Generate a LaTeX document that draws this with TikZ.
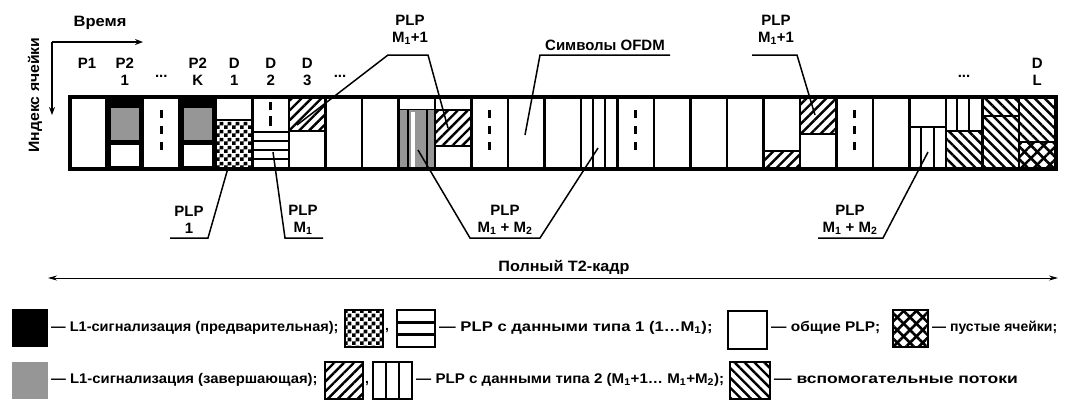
\documentclass[tikz,border=0pt]{standalone}
\usepackage{fontspec}
\setmainfont{Liberation Sans}
\usetikzlibrary{patterns,patterns.meta,arrows.meta}
\definecolor{cellgray}{RGB}{150,150,150}
\pgfdeclarepatternformonly{mychk}{\pgfqpoint{0pt}{0pt}}{\pgfqpoint{8pt}{8pt}}{\pgfqpoint{8pt}{8pt}}{%
 \pgfpathrectangle{\pgfqpoint{0pt}{0pt}}{\pgfqpoint{4pt}{4pt}}%
 \pgfpathrectangle{\pgfqpoint{4pt}{4pt}}{\pgfqpoint{4pt}{4pt}}%
 \pgfusepath{fill}}
\tikzset{
 lbl/.style={font=\fontsize{15}{17}\selectfont\bfseries, inner sep=0pt, align=center},
 legtxt/.style={font=\fontsize{14}{14}\selectfont\bfseries, anchor=west, inner sep=0pt},
 cell/.style={line width=2.5pt},
 hatchne/.style={pattern={Lines[angle=45,distance=7pt,line width=2.4pt]}},
 hatchnw/.style={pattern={Lines[angle=-45,distance=7pt,line width=2.4pt]}},
 crossa/.style={pattern={Lines[angle=45,distance=9pt,line width=2.6pt]}},
 crossb/.style={pattern={Lines[angle=-45,distance=9pt,line width=2.6pt]}},
 leader/.style={line width=1.5pt},
 vdot/.style={line width=3.2pt},
 legbox/.style={draw, line width=2.5pt},
}
\begin{document}
\begin{tikzpicture}[x=1pt,y=-1pt]
\useasboundingbox (0,0) rectangle (1088,400);
\fill[white] (0,0) rectangle (1088,400);
% ---------------- axes ----------------
\node[font=\fontsize{15}{15}\selectfont\bfseries, inner sep=0pt] (time) at (100,23) {\scalebox{1.1}[1]{Время}};
\coordinate (ax0) at (52,42);
\coordinate (axx) at (143,42);
\coordinate (axy) at (52,115);
\draw[line width=1.6pt, -{Stealth[length=8pt,width=6pt]}] (ax0) -- (axx);
\draw[line width=1.6pt, -{Stealth[length=8pt,width=6pt]}] (ax0) -- (axy);
\node[font=\fontsize{15}{15}\selectfont\bfseries, inner sep=0pt, rotate=90] (cidx) at (35,95) {\scalebox{1.05}[1]{Индекс ячейки}};
% ---------------- column contents ----------------
% col 2 and 4 : P2
\fill[black] (106.5,96.5) rectangle (143,169);
\fill[cellgray] (111,108) rectangle (139,140);
\fill[white] (111,145) rectangle (139,166);
\fill[black] (179.5,96.5) rectangle (216,169);
\fill[cellgray] (184,108) rectangle (212,140);
\fill[white] (184,145) rectangle (212,166);
% col 3 dots
\foreach \yy in {110,126,142} \draw[vdot] (161.25,\yy) -- ++(0,8);
% col 5 D1
\fill[pattern=mychk] (216,120) rectangle (252.5,169);
\draw[cell] (216,120) -- (252.5,120);
% col 6 D2
\draw[vdot] (270.75,102) -- (270.75,110);
\draw[vdot] (270.75,116) -- (270.75,126);
\draw[cell] (252.5,132) -- (289,132);
\foreach \yy in {141,150,159} \draw[cell] (252.5,\yy) -- (289,\yy);
% col 7 D3
\fill[hatchne] (289,96.5) rectangle (325.5,131);
\draw[cell] (289,131) -- (325.5,131);
% col 10
\draw[cell] (398.5,110) -- (435,110);
\fill[cellgray] (398.5,110) rectangle (435,169);
\fill[white] (411,112) rectangle (415,169);
\draw[cell] (408,110) -- (408,169);
\draw[cell] (427,110) -- (427,169);
% col 11
\draw[cell] (435,110) -- (471.5,110);
\fill[hatchne] (435,110) rectangle (471.5,146);
\draw[cell] (435,146) -- (471.5,146);
% col 12 dots
\foreach \yy in {110,126,142} \draw[vdot] (489.75,\yy) -- ++(0,8);
% col 15 stripes
\draw[cell] (593,96.5) -- (593,169);
\draw[cell] (605,96.5) -- (605,169);
% col 16 dots
\foreach \yy in {110,126,142} \draw[vdot] (635.75,\yy) -- ++(0,8);
% col 20
\fill[hatchne] (763.5,151) rectangle (800,169);
\draw[cell] (763.5,151) -- (800,151);
% col 21
\fill[hatchne] (800,96.5) rectangle (836.5,134);
\draw[cell] (800,134) -- (836.5,134);
% col 22 dots
\foreach \yy in {110,126,142} \draw[vdot] (854.75,\yy) -- ++(0,8);
% col 24
\draw[cell] (909.5,127) -- (946,127);
\draw[cell] (921,127) -- (921,169);
\draw[cell] (934,127) -- (934,169);
% col 25
\draw[cell] (957,96.5) -- (957,131);
\draw[cell] (969,96.5) -- (969,131);
\fill[hatchnw] (946,131) rectangle (982.5,169);
\draw[cell] (946,131) -- (982.5,131);
% col 26
\fill[hatchnw] (982.5,96.5) rectangle (1019,169);
\draw[cell] (982.5,116) -- (1019,116);
% col 27
\fill[hatchnw] (1019,96.5) rectangle (1055.5,142);
\fill[crossa] (1019,142) rectangle (1055.5,169);
\fill[crossb] (1019,142) rectangle (1055.5,169);
\draw[cell] (1019,142) -- (1055.5,142);
% column separators
\foreach \xx in {106.5,143,179.5,216,252.5,289,325.5,362,398.5,435,471.5,508,544.5,581,617.5,654,690.5,727,763.5,800,836.5,873,909.5,946,982.5,1019}
  \draw[cell] (\xx,96.5) -- (\xx,169);
\node[draw, line width=4pt, anchor=north west, minimum width=985.5pt, minimum height=72.5pt, inner sep=0pt, outer sep=0pt] (frame) at (70,96.5) {};
% ---------------- labels above ----------------
\node[lbl] (lp1) at (87,63) {P1};
\node[lbl] (lp21) at (124.75,71.5) {P2\\1};
\node[lbl] (ldots1) at (161.25,76) {...};
\node[lbl] (lp2k) at (197.75,71.5) {P2\\K};
\node[lbl] (ld1) at (234.25,71.5) {D\\1};
\node[lbl] (ld2) at (270.75,71.5) {D\\2};
\node[lbl] (ld3) at (307.25,71.5) {D\\3};
\node[lbl] (ldots2) at (340,76) {...};
\node[lbl] (ldots3) at (964,76) {...};
\node[lbl] (ldl) at (1037.25,71.5) {D\\L};
% PLP M1+1 (a)
\node[lbl] (plpa) at (410,30) {PLP\\M\textsubscript{1}+1};
\coordinate (aL) at (388,55); \coordinate (aR) at (428,55);
\coordinate (aE1) at (297,125); \coordinate (aE2) at (448,128);
\draw[leader] (aE1) -- (aL) -- (aR) -- (aE2);
% OFDM symbols
\node[lbl] (ofdm) at (605,45) {Символы OFDM};
\coordinate (oL) at (540,55); \coordinate (oR) at (670,55); \coordinate (oE) at (525,135);
\draw[leader] (oR) -- (oL) -- (oE);
% PLP M1+1 (b)
\node[lbl] (plpb) at (776,30) {PLP\\M\textsubscript{1}+1};
\coordinate (bL) at (752,55); \coordinate (bR) at (797,55); \coordinate (bE) at (815,115);
\draw[leader] (bL) -- (bR) -- (bE);
% ---------------- labels below ----------------
\node[lbl] (plp1) at (189,220) {PLP\\1};
\coordinate (cL) at (170,238); \coordinate (cR) at (208,238); \coordinate (cE) at (228,168);
\draw[leader] (cL) -- (cR) -- (cE);
\node[lbl] (plpm1) at (303,220) {PLP\\M\textsubscript{1}};
\coordinate (dL) at (285,238); \coordinate (dR) at (323,238); \coordinate (dE) at (273,152);
\draw[leader] (dR) -- (dL) -- (dE);
\node[lbl] (plpm2a) at (505,220) {PLP\\M\textsubscript{1} + M\textsubscript{2}};
\coordinate (eL) at (470,238); \coordinate (eR) at (540,238);
\coordinate (eE1) at (418,150); \coordinate (eE2) at (598,148);
\draw[leader] (eE1) -- (eL) -- (eR) -- (eE2);
\node[lbl] (plpm2b) at (850,220) {PLP\\M\textsubscript{1} + M\textsubscript{2}};
\coordinate (fL) at (818,238); \coordinate (fR) at (883,238); \coordinate (fE) at (928,152);
\draw[leader] (fL) -- (fR) -- (fE);
% full frame arrow
\coordinate (frl) at (48,278); \coordinate (frr) at (1058,278);
\draw[line width=0.9pt, {Stealth[length=9pt,width=5pt]}-{Stealth[length=9pt,width=5pt]}] (frl) -- (frr);
\node[lbl] (full) at (564,267) {\scalebox{1.08}[1]{Полный T2-кадр}};
% ---------------- legend ----------------
\fill[black] (12,309) rectangle (48,347);
\node[legtxt] (t1) at (51,328) {\scalebox{1.04}[1]{— L1-сигнализация (предварительная);}};
\fill[pattern=mychk] (345,310) rectangle (383,347);
\draw[legbox] (345,310) rectangle (383,347);
\node[legtxt] (c1) at (385,331) {,};
\draw[legbox] (397,310) rectangle (435,347);
\draw[cell] (397,322.5) -- (435,322.5);
\draw[cell] (397,334.5) -- (435,334.5);
\node[legtxt] (t2) at (439,328) {\scalebox{1.19}[1]{— PLP с данными типа 1 (1…M\textsubscript{1});}};
\draw[legbox] (728,311) rectangle (767,349);
\node[legtxt] (t3) at (771,328) {\scalebox{1.1}[1]{— общие PLP;}};
\fill[crossa] (893,310) rectangle (928,347);
\fill[crossb] (893,310) rectangle (928,347);
\draw[legbox] (893,310) rectangle (928,347);
\node[legtxt] (t4) at (932,328) {— пустые ячейки;};
% row 2
\fill[cellgray] (12,362) rectangle (48,399);
\node[legtxt] (t5) at (51,380) {\scalebox{1.06}[1]{— L1-сигнализация (завершающая);}};
\fill[hatchne] (325,362) rectangle (363,399);
\draw[legbox] (325,362) rectangle (363,399);
\node[legtxt] (c2) at (365,384) {,};
\draw[legbox] (373,362) rectangle (412,399);
\draw[cell] (386,362) -- (386,399);
\draw[cell] (399,362) -- (399,399);
\node[legtxt] (t6) at (416,380) {\scalebox{1.08}[1]{— PLP с данными типа 2 (M\textsubscript{1}+1… M\textsubscript{1}+M\textsubscript{2});}};
\fill[hatchnw] (730,362) rectangle (770,399);
\draw[legbox] (730,362) rectangle (770,399);
\node[legtxt] (t7) at (774,380) {\scalebox{1.25}[1]{— вспомогательные потоки}};
\end{tikzpicture}
\end{document}
